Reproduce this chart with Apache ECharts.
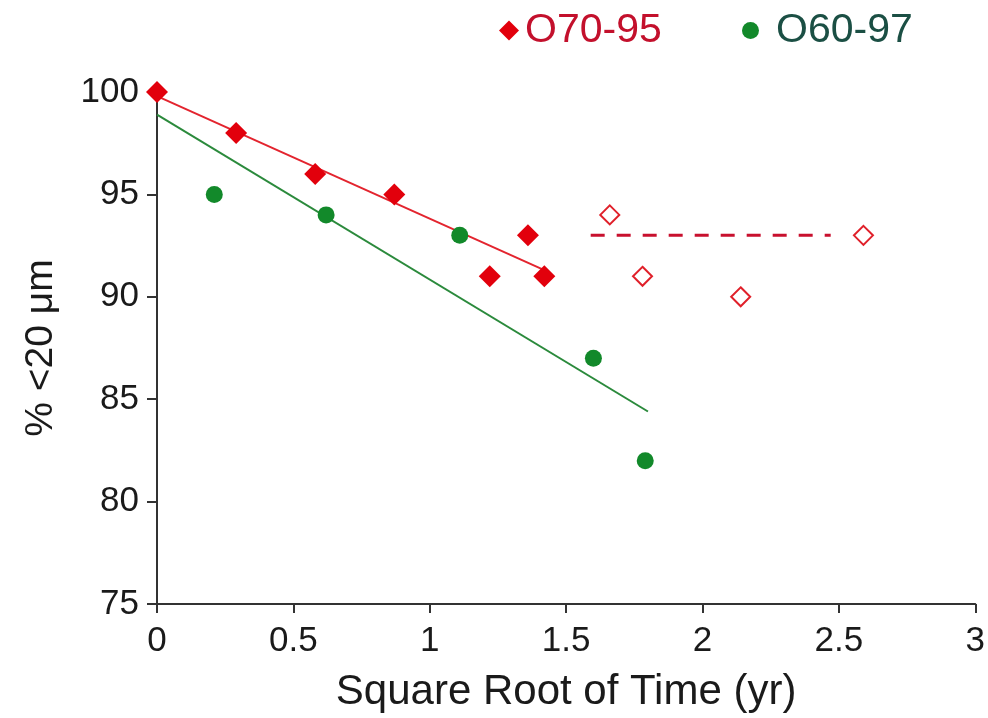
<!DOCTYPE html>
<html>
<head>
<meta charset="utf-8">
<script src="https://cdn.jsdelivr.net/npm/echarts@6/dist/echarts.min.js"></script>
<style>
  html, body { margin: 0; padding: 0; background: #fff; }
  #chart { width: 988px; height: 718px; }
</style>
</head>
<body>
<div id="chart"></div>
<script>
// O70-95: measured points (filled) and later points (open)
const o70Filled = [[0, 100], [0.29, 98], [0.58, 96], [0.87, 95], [1.22, 91], [1.36, 93], [1.42, 91]];
const o70Open = [[1.66, 94], [1.78, 91], [2.14, 90], [2.59, 93]];
// O60-97 points
const o60Points = [[0.21, 95], [0.62, 94], [1.11, 93], [1.6, 87], [1.79, 82]];
// Fitted trend lines
const o70Fit = [[0, 99.8], [1.42, 91.3]];
const o60Fit = [[0, 98.9], [1.8, 84.4]];
// Level for later O70-95 points
const o70Level = [[1.59, 93], [2.47, 93]];

const xTicks = [0, 0.5, 1, 1.5, 2, 2.5, 3];
const yTicks = [75, 80, 85, 90, 95, 100];

const RED = '#e2000c';
const GREEN = '#12892a';
const FONT = 'Liberation Sans';

const chart = echarts.init(document.getElementById('chart'));
chart.setOption({
  animation: false,
  backgroundColor: '#fff',
  textStyle: { fontFamily: FONT },
  legend: [
    {
      top: 5, left: 494, itemWidth: 20, itemHeight: 20, selectedMode: false,
      data: [{ name: 'O70-95', icon: 'diamond' }],
      textStyle: { fontSize: 41, fontFamily: FONT, color: '#c3102c', padding: [0, 0, 0, 1] }
    },
    {
      top: 5, left: 737, itemWidth: 17, itemHeight: 17, selectedMode: false,
      data: [{ name: 'O60-97', icon: 'circle' }],
      textStyle: { fontSize: 41, fontFamily: FONT, color: '#1b4f44', padding: [0, 0, 0, 12] }
    }
  ],
  grid: { left: 157, right: 9, top: 92, bottom: 114 },
  xAxis: {
    type: 'value',
    min: xTicks[0],
    max: xTicks[xTicks.length - 1],
    interval: 0.5,
    name: 'Square Root of Time (yr)',
    nameLocation: 'middle',
    nameGap: 67,
    nameTextStyle: { fontSize: 42, color: '#1a1a1a', fontFamily: FONT },
    axisLine: { lineStyle: { color: '#333', width: 2 } },
    axisTick: { length: 9, lineStyle: { color: '#333', width: 2 } },
    axisLabel: { fontSize: 35, color: '#1a1a1a', margin: 20, fontFamily: FONT },
    splitLine: { show: false }
  },
  yAxis: {
    type: 'value',
    min: yTicks[0],
    max: yTicks[yTicks.length - 1],
    interval: 5,
    name: '% <20 μm',
    nameLocation: 'middle',
    nameGap: 96,
    nameRotate: 90,
    nameTextStyle: { fontSize: 39, color: '#1a1a1a', fontFamily: FONT },
    axisLine: { show: true, lineStyle: { color: '#333', width: 2 } },
    axisTick: { show: true, length: 10, lineStyle: { color: '#333', width: 2 } },
    axisLabel: { fontSize: 35, color: '#1a1a1a', margin: 18, fontFamily: FONT },
    splitLine: { show: false }
  },
  series: [
    {
      name: 'O70-95 fit', type: 'line', data: o70Fit, symbol: 'none',
      lineStyle: { color: '#e3242e', width: 2 }, z: 2
    },
    {
      name: 'O60-97 fit', type: 'line', data: o60Fit, symbol: 'none',
      lineStyle: { color: '#2b8a3c', width: 2 }, z: 2
    },
    {
      name: 'O70-95 level', type: 'line', data: o70Level, symbol: 'none',
      lineStyle: { color: '#c8102e', width: 3, type: [14, 12] }, z: 2
    },
    {
      name: 'O70-95', type: 'scatter', data: o70Filled, symbol: 'diamond',
      symbolSize: 22, itemStyle: { color: RED, opacity: 1 }, z: 3
    },
    {
      name: 'O70-95 later', type: 'scatter', data: o70Open, symbol: 'diamond',
      symbolSize: 19, itemStyle: { color: '#fff', borderColor: '#e0202a', borderWidth: 2, opacity: 1 }, z: 3
    },
    {
      name: 'O60-97', type: 'scatter', data: o60Points, symbol: 'circle',
      symbolSize: 17, itemStyle: { color: GREEN, opacity: 1 }, z: 3
    }
  ]
});
</script>
</body>
</html>
